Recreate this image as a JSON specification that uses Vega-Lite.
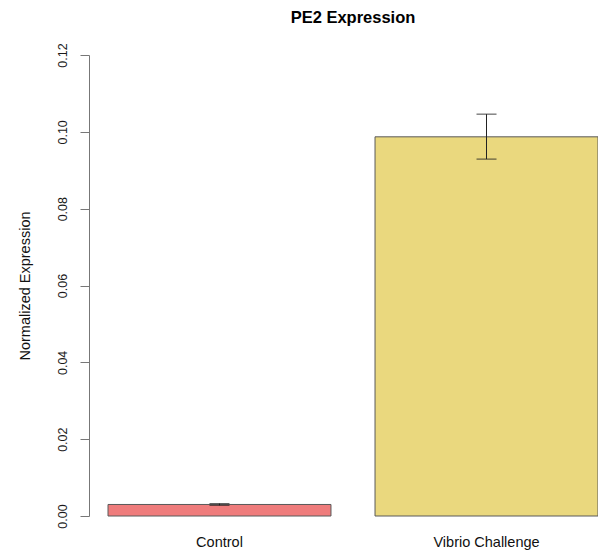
{
  "$schema": "https://vega.github.io/schema/vega-lite/v6.json",
  "width": 490,
  "height": 461,
  "autosize": {"type": "none"},
  "padding": {"left": 108, "top": 55, "right": 0, "bottom": 34},
  "background": "white",
  "config": {
    "font": "Liberation Sans",
    "view": {"stroke": null}
  },
  "title": {
    "text": "PE2 Expression",
    "fontSize": 16.5,
    "fontWeight": "bold",
    "color": "#000000",
    "anchor": "middle",
    "offset": 16
  },
  "data": {
    "values": [
      {"group": "Control", "mean": 0.0030, "lower": 0.00277, "upper": 0.00323},
      {"group": "Vibrio Challenge", "mean": 0.0987, "lower": 0.0929, "upper": 0.1046}
    ]
  },
  "encoding": {
    "x": {
      "field": "group",
      "type": "nominal",
      "sort": null,
      "scale": {"paddingInner": 0.165, "paddingOuter": 0},
      "axis": {
        "title": null,
        "domain": false,
        "ticks": false,
        "labelAngle": 0,
        "labelFontSize": 14.5,
        "labelColor": "#111111",
        "labelPadding": 19
      }
    }
  },
  "layer": [
    {
      "mark": {"type": "bar", "stroke": "#5a5a5a", "strokeWidth": 1},
      "encoding": {
        "y": {
          "field": "mean",
          "type": "quantitative",
          "scale": {"domain": [0, 0.12], "nice": false},
          "axis": {
            "title": "Normalized Expression",
            "titleFontSize": 14.5,
            "titleFontWeight": "normal",
            "titleColor": "#111111",
            "titlePadding": 24,
            "values": [0, 0.02, 0.04, 0.06, 0.08, 0.1, 0.12],
            "format": ".2f",
            "labelAngle": -90,
            "labelAlign": "center",
            "labelBaseline": "bottom",
            "labelFontSize": 12.5,
            "labelColor": "#1a1a1a",
            "labelPadding": 11,
            "offset": 19,
            "grid": false,
            "domainColor": "#777777",
            "tickColor": "#777777",
            "tickSize": 9
          }
        },
        "color": {
          "field": "group",
          "type": "nominal",
          "scale": {"domain": ["Control", "Vibrio Challenge"], "range": ["#EF7C7C", "#EAD87E"]},
          "legend": null
        }
      }
    },
    {
      "mark": {"type": "rule", "color": "#222222", "strokeWidth": 1},
      "encoding": {
        "y": {"field": "lower", "type": "quantitative"},
        "y2": {"field": "upper"}
      }
    },
    {
      "mark": {"type": "tick", "color": "#222222", "thickness": 1.2, "size": 20},
      "encoding": {
        "y": {"field": "upper", "type": "quantitative"}
      }
    },
    {
      "mark": {"type": "tick", "color": "#222222", "thickness": 1.2, "size": 20},
      "encoding": {
        "y": {"field": "lower", "type": "quantitative"}
      }
    }
  ]
}
